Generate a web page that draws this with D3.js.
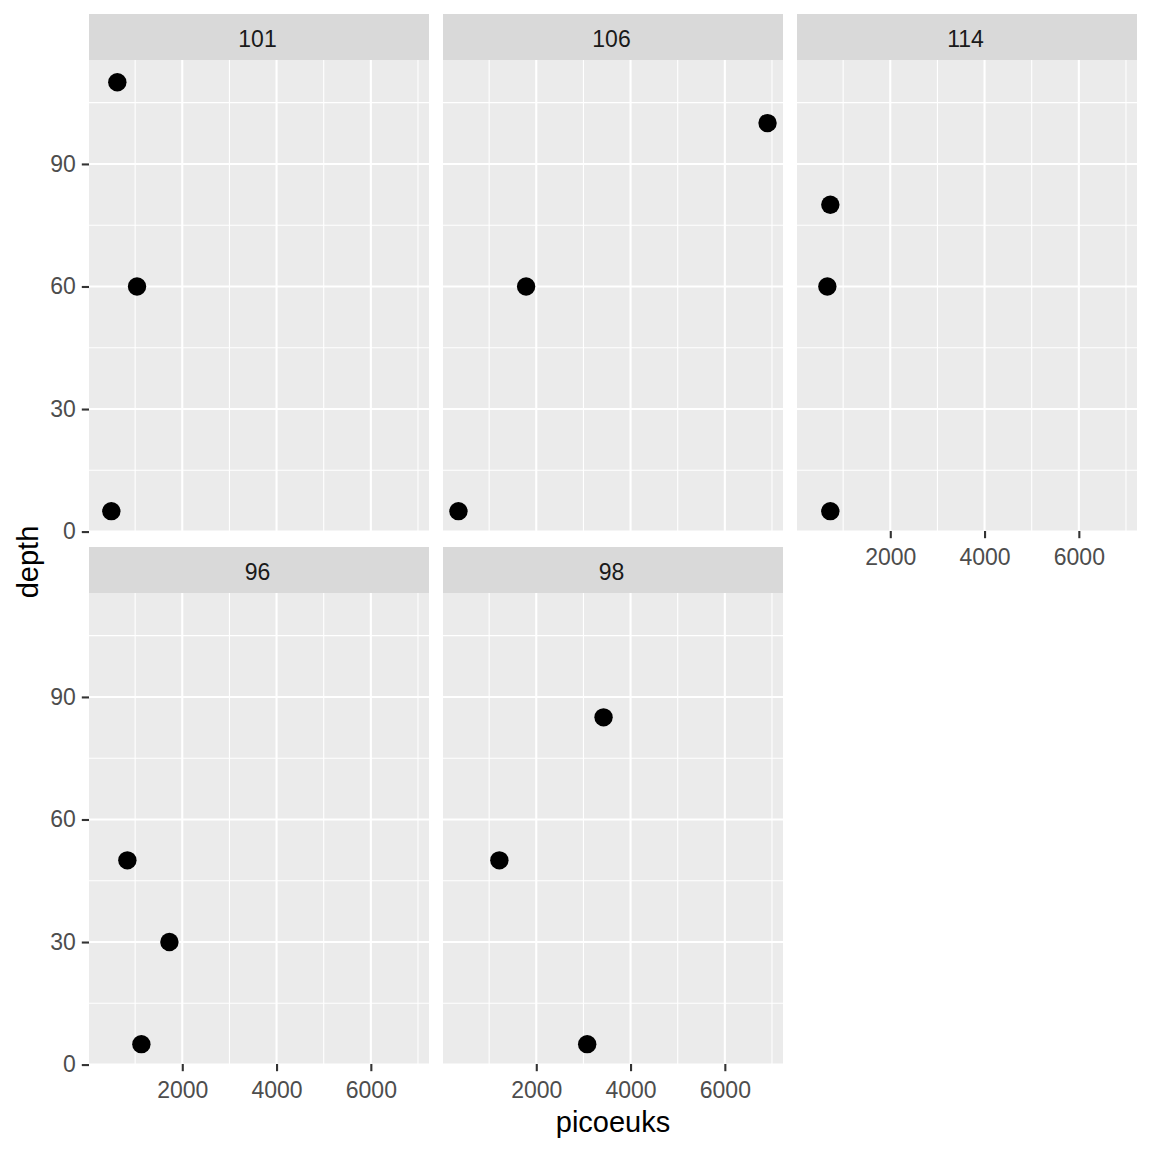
<!DOCTYPE html>
<html>
<head>
<meta charset="utf-8">
<script src="https://cdn.jsdelivr.net/npm/d3@7"></script>
<style>
  html, body { margin: 0; padding: 0; background: #ffffff; }
  svg { display: block; font-family: "Liberation Sans", Arial, sans-serif; }
</style>
</head>
<body>
<svg id="chart" width="1152" height="1152"></svg>
<script>
// ---- data ----
const panels = ["101", "106", "114", "96", "98"];
const panel101 = [{x: 622, y: 110}, {x: 1040, y: 60}, {x: 495, y: 5}];
const panel106 = [{x: 6906, y: 100}, {x: 1784, y: 60}, {x: 349, y: 5}];
const panel114 = [{x: 728, y: 80}, {x: 665, y: 60}, {x: 728, y: 5}];
const panel96  = [{x: 835, y: 50}, {x: 1727, y: 30}, {x: 1132, y: 5}];
const panel98  = [{x: 3427, y: 85}, {x: 1217, y: 50}, {x: 3080, y: 5}];
const panelData = {"101": panel101, "106": panel106, "114": panel114, "96": panel96, "98": panel98};
const xTicks = [2000, 4000, 6000];
const xMinor = [1000, 3000, 5000, 7000];
const yTicks = [0, 30, 60, 90];
const yMinor = [15, 45, 75, 105];
const xTitle = "picoeuks";
const yTitle = "depth";

// ---- layout ----
const colLeft = [89, 443, 797];
const panelW = 340;
const stripTop = [14, 547];
const stripH = 46;
const panelH = 471;
const ncol = 3;

const allPts = Object.values(panelData).flat();
const xExt = d3.extent(allPts, d => d.x);
const yExt = d3.extent(allPts, d => d.y);
const xPad = (xExt[1] - xExt[0]) * 0.05;
const yPad = (yExt[1] - yExt[0]) * 0.05;

const x = d3.scaleLinear().domain([xExt[0] - xPad, xExt[1] + xPad]).range([0, panelW]);
const y = d3.scaleLinear().domain([yExt[0] - yPad, yExt[1] + yPad]).range([panelH + 1.6, 0.8]);

const svg = d3.select("#chart");

panels.forEach((name, i) => {
  const col = i % ncol, row = Math.floor(i / ncol);
  const left = colLeft[col];
  const sTop = stripTop[row];
  const pTop = sTop + stripH;

  // strip
  svg.append("rect").attr("x", left).attr("y", sTop).attr("width", panelW).attr("height", stripH)
    .attr("fill", "#D9D9D9");
  svg.append("text").attr("x", left + panelW / 2 - 1.5).attr("y", sTop + 32.5)
    .attr("text-anchor", "middle").attr("font-size", 23).attr("fill", "#1A1A1A").text(name);

  const g = svg.append("g").attr("transform", `translate(${left},${pTop})`);
  g.append("rect").attr("width", panelW).attr("height", panelH).attr("fill", "#EBEBEB");

  // minor grid
  g.selectAll(".xmin").data(xMinor).enter().append("line")
    .attr("x1", d => x(d)).attr("x2", d => x(d)).attr("y1", 0).attr("y2", panelH)
    .attr("stroke", "#ffffff").attr("stroke-width", 1.1);
  g.selectAll(".ymin").data(yMinor).enter().append("line")
    .attr("x1", 0).attr("x2", panelW).attr("y1", d => y(d)).attr("y2", d => y(d))
    .attr("stroke", "#ffffff").attr("stroke-width", 1.1);
  // major grid
  g.selectAll(".xmaj").data(xTicks).enter().append("line")
    .attr("x1", d => x(d)).attr("x2", d => x(d)).attr("y1", 0).attr("y2", panelH)
    .attr("stroke", "#ffffff").attr("stroke-width", 2.1);
  g.selectAll(".ymaj").data(yTicks).enter().append("line")
    .attr("x1", 0).attr("x2", panelW).attr("y1", d => y(d)).attr("y2", d => y(d))
    .attr("stroke", "#ffffff").attr("stroke-width", 2.1);

  // points
  g.selectAll("circle").data(panelData[name]).enter().append("circle")
    .attr("cx", d => x(d.x)).attr("cy", d => y(d.y)).attr("r", 9.2).attr("fill", "#000000");

  // y axis on first column
  if (col === 0) {
    const ya = g.append("g").call(d3.axisLeft(y).tickValues(yTicks).tickSize(7.2).tickPadding(6).tickFormat(d3.format("d")));
    ya.select(".domain").remove();
    ya.selectAll(".tick line").attr("stroke", "#333333").attr("stroke-width", 2.1);
    ya.selectAll(".tick text").attr("fill", "#4D4D4D").attr("font-size", 23)
      .attr("font-family", "Liberation Sans, Arial, sans-serif");
  }
  // x axis where no panel below
  const hasBelow = (i + ncol) < panels.length;
  if (!hasBelow) {
    const xa = g.append("g").attr("transform", `translate(0,${panelH})`)
      .call(d3.axisBottom(x).tickValues(xTicks).tickSize(7.2).tickPadding(10.5).tickFormat(d3.format("d")));
    xa.select(".domain").remove();
    xa.selectAll(".tick line").attr("stroke", "#333333").attr("stroke-width", 2.1);
    xa.selectAll(".tick text").attr("fill", "#4D4D4D").attr("font-size", 23)
      .attr("font-family", "Liberation Sans, Arial, sans-serif");
  }
});

// axis titles
svg.append("text").attr("x", (colLeft[0] + colLeft[2] + panelW) / 2).attr("y", 1132)
  .attr("text-anchor", "middle").attr("font-size", 29).attr("fill", "#000000").text(xTitle);
svg.append("text").attr("transform", "translate(38,562) rotate(-90)")
  .attr("text-anchor", "middle").attr("font-size", 29).attr("fill", "#000000").text(yTitle);
</script>
</body>
</html>
